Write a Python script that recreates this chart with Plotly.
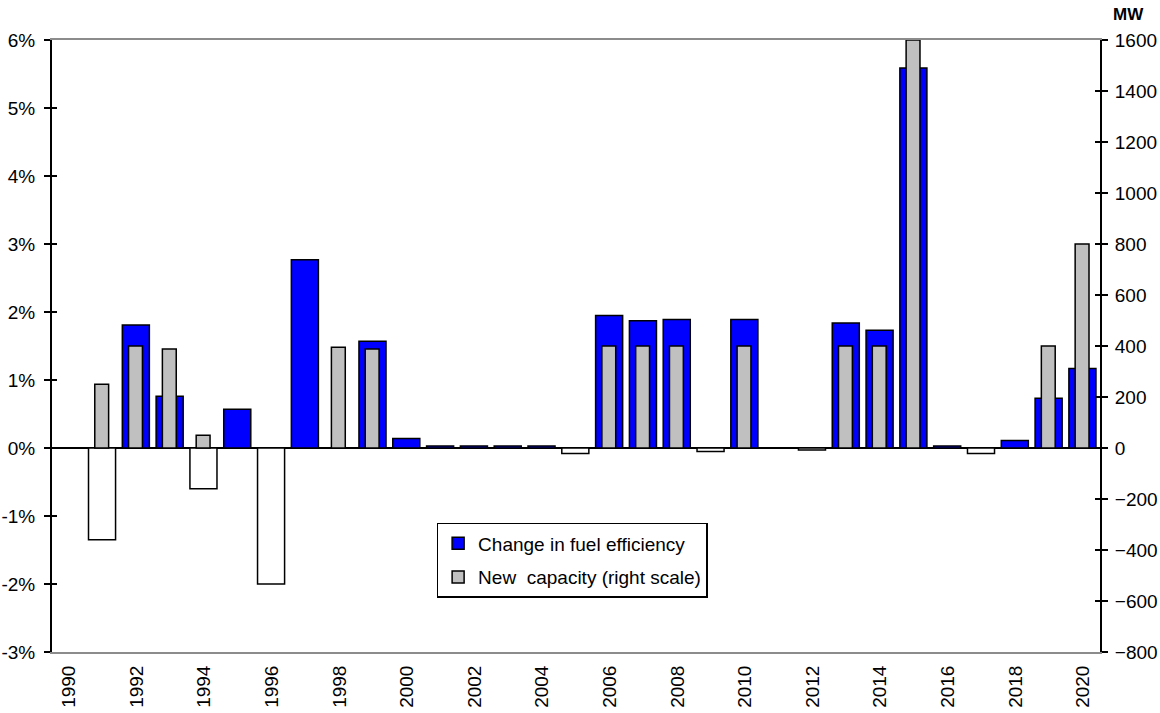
import plotly.graph_objects as go

years = list(range(1990, 2021))
efficiency_pct = [None, -1.35, 1.81, 0.76, -0.60, 0.57, -2.00, 2.77, None, 1.57,
                  0.14, 0.03, 0.03, 0.03, 0.03, -0.08, 1.95, 1.87, 1.89, -0.05,
                  1.89, None, -0.03, 1.84, 1.73, 5.59, 0.03, -0.08, 0.11, 0.73, 1.17]
capacity_mw = [None, 250, 400, 388, 50, None, None, None, 395, 388,
               None, None, None, None, None, None, 400, 400, 400, None,
               400, None, None, 400, 400, 1600, None, None, None, 400, 800]
y_tick_vals = [-3, -2, -1, 0, 1, 2, 3, 4, 5, 6]
y2_tick_vals = [-800, -600, -400, -200, 0, 200, 400, 600, 800, 1000, 1200, 1400, 1600]
x_tick_vals = years[::2]

FONT = "Liberation Sans, Arial, sans-serif"
BLUE = "#0000FF"
GRAY = "#C0C0C0"

pos_x = [y for y, v in zip(years, efficiency_pct) if v is not None and v >= 0]
pos_v = [v for v in efficiency_pct if v is not None and v >= 0]
neg_x = [y for y, v in zip(years, efficiency_pct) if v is not None and v < 0]
neg_v = [v for v in efficiency_pct if v is not None and v < 0]

fig = go.Figure()
fig.add_trace(go.Bar(x=pos_x, y=pos_v, name="Change in fuel efficiency",
                     marker=dict(color=BLUE, line=dict(color="black", width=1.5)),
                     width=0.8, offset=-0.42, legendgroup="a", yaxis="y"))
fig.add_trace(go.Bar(x=neg_x, y=neg_v, name="Change in fuel efficiency (neg)",
                     marker=dict(color="white", line=dict(color="black", width=1.5)),
                     width=0.8, offset=-0.42, showlegend=False, legendgroup="a", yaxis="y"))
fig.add_trace(go.Bar(x=years, y=capacity_mw, name="New  capacity (right scale)",
                     marker=dict(color=GRAY, line=dict(color="black", width=1.5)),
                     width=0.41, offset=-0.235, legendgroup="b", yaxis="y2"))

fig.update_layout(
    width=1160, height=713,
    margin=dict(l=52, r=60, t=40, b=61, autoexpand=False),
    paper_bgcolor="white", plot_bgcolor="white",
    font=dict(family=FONT, size=19, color="black"),
    barmode="overlay",
    showlegend=True,
    legend=dict(x=0.367, y=0.211, xanchor="left", yanchor="top",
                bordercolor="black", borderwidth=1.5, bgcolor="white",
                font=dict(size=19), traceorder="grouped", tracegroupgap=6,
                itemwidth=30),
    xaxis=dict(range=[1989.5, 2020.5], tickvals=x_tick_vals, ticktext=[str(v) for v in x_tick_vals],
               tickangle=-90, showgrid=False, zeroline=False, showline=True, automargin=False,
               linecolor="#8c8c8c", linewidth=2, mirror=True, ticks="", ticklabelstandoff=4),
    yaxis=dict(range=[-3, 6], tickvals=y_tick_vals, ticktext=[f"{v}%" for v in y_tick_vals],
               showgrid=False, zeroline=True, zerolinecolor="black", zerolinewidth=2,
               showline=True, linecolor="black", linewidth=2, automargin=False,
               ticks="outside", ticklen=6, tickwidth=2, tickcolor="black", ticklabelstandoff=5),
    yaxis2=dict(range=[-800, 1600], tickvals=y2_tick_vals, overlaying="y", side="right",
                showgrid=False, zeroline=False, showline=True, linecolor="black", linewidth=2,
                automargin=False,
                ticks="outside", ticklen=6, tickwidth=2, tickcolor="black", ticklabelstandoff=3),
    yaxis3=dict(range=[-3, 6], tickvals=y_tick_vals, overlaying="y", side="left",
                showgrid=False, zeroline=False, showline=False, showticklabels=False,
                automargin=False,
                ticks="inside", ticklen=5, tickwidth=2, tickcolor="black"),
    yaxis4=dict(range=[-800, 1600], tickvals=y2_tick_vals, overlaying="y", side="right",
                showgrid=False, zeroline=False, showline=False, showticklabels=False,
                automargin=False,
                ticks="inside", ticklen=5, tickwidth=2, tickcolor="black"),
    annotations=[dict(text="<b>MW</b>", xref="paper", yref="paper", x=1.027, y=1.042,
                      xanchor="center", yanchor="middle", showarrow=False,
                      font=dict(size=17, family=FONT))],
)

# invisible traces to activate inner-tick overlay axes
fig.add_trace(go.Scatter(x=[None], y=[None], yaxis="y3", showlegend=False, hoverinfo="skip"))
fig.add_trace(go.Scatter(x=[None], y=[None], yaxis="y4", showlegend=False, hoverinfo="skip"))

fig.write_html("out.html", config={"displayModeBar": False},
               post_script="document.body.style.margin='0';document.body.style.padding='0';"
                           "document.body.style.overflow='hidden';")
